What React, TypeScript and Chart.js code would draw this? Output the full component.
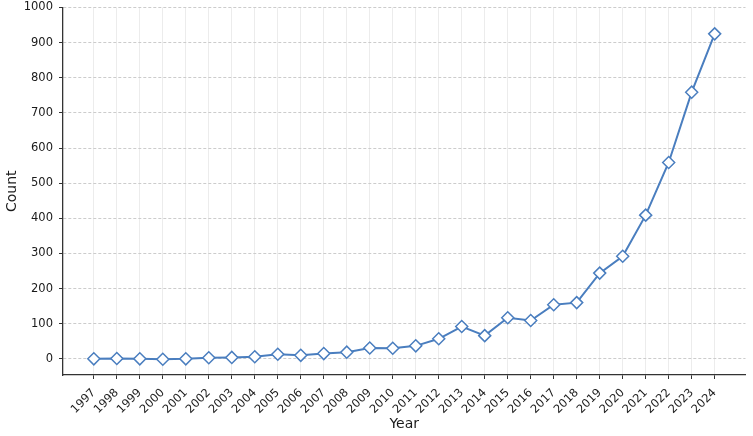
import React, { useEffect, useRef } from "react";
import { Chart, registerables } from "chart.js";

Chart.register(...registerables);

const years = [1997, 1998, 1999, 2000, 2001, 2002, 2003, 2004, 2005, 2006, 2007, 2008, 2009, 2010, 2011, 2012, 2013, 2014, 2015, 2016, 2017, 2018, 2019, 2020, 2021, 2022, 2023, 2024];
const counts = [0, 1, 0, -1, 0, 3, 4, 6, 13, 10, 15, 19, 31, 30, 37, 57, 92, 66, 117, 109, 154, 160, 244, 292, 409, 559, 759, 925];
const yTicks = [0, 100, 200, 300, 400, 500, 600, 700, 800, 900, 1000];

const FONT = "'DejaVu Sans', sans-serif";

export default function App() {
  const ref = useRef<HTMLCanvasElement | null>(null);
  useEffect(() => {
    if (!ref.current) return;
    const chart = new Chart(ref.current, {
      type: "line",
      data: {
        datasets: [
          {
            data: years.map((y, i) => ({ x: y, y: counts[i] })),
            borderColor: "#4a7ebf",
            borderWidth: 2,
            pointStyle: "rectRot",
            pointRadius: 6,
            pointBorderWidth: 1.5,
            pointBackgroundColor: "#ffffff",
            pointBorderColor: "#4a7ebf",
            tension: 0,
          },
        ],
      },
      options: {
        responsive: false,
        animation: false,
        layout: { padding: { top: 7, right: 5, left: 0, bottom: 0 } },
        plugins: { legend: { display: false }, tooltip: { enabled: false } },
        scales: {
          x: {
            type: "linear",
            min: 1995.66,
            max: 2025.34,
            afterBuildTicks: (s: any) => {
              s.ticks = years.map((v) => ({ value: v }));
            },
            afterFit: (s: any) => {
              s.height = 61;
              s.paddingLeft = 0;
              s.paddingRight = 0;
            },
            ticks: {
              autoSkip: false,
              maxRotation: 45,
              minRotation: 45,
              padding: 7,
              color: "#1a1a1a",
              font: { family: FONT, size: 11.5 },
              callback: (v: any) => String(v),
            },
            grid: { color: "#ececec", lineWidth: 1, tickColor: "#333", tickLength: 4 },
            border: { color: "#333", width: 1.3 },
            title: { display: true, text: "Year", color: "#1a1a1a", font: { family: FONT, size: 14 }, padding: { top: 0, bottom: 3 } },
          },
          y: {
            type: "linear",
            min: -46,
            max: 1000,
            afterBuildTicks: (s: any) => {
              s.ticks = yTicks.map((v) => ({ value: v }));
            },
            afterFit: (s: any) => {
              s.width = 63;
              s.paddingTop = 0;
              s.paddingBottom = 0;
            },
            ticks: { padding: 6, color: "#1a1a1a", font: { family: FONT, size: 11.5 }, callback: (v: any) => String(v) },
            grid: { color: "#cccccc", lineWidth: 1, tickColor: "#333", tickLength: 4 },
            border: { color: "#333", width: 1.3, dash: [3, 2] },
            title: { display: true, text: "Count", color: "#1a1a1a", font: { family: FONT, size: 14 }, padding: { top: 4, bottom: 2 } },
          },
        },
      },
    });
    return () => chart.destroy();
  }, []);
  return (
    <div style={{ position: "fixed", left: 0, top: 0, width: 753, height: 436, background: "#fff" }}>
      <canvas ref={ref} width={753} height={436} />
    </div>
  );
}
